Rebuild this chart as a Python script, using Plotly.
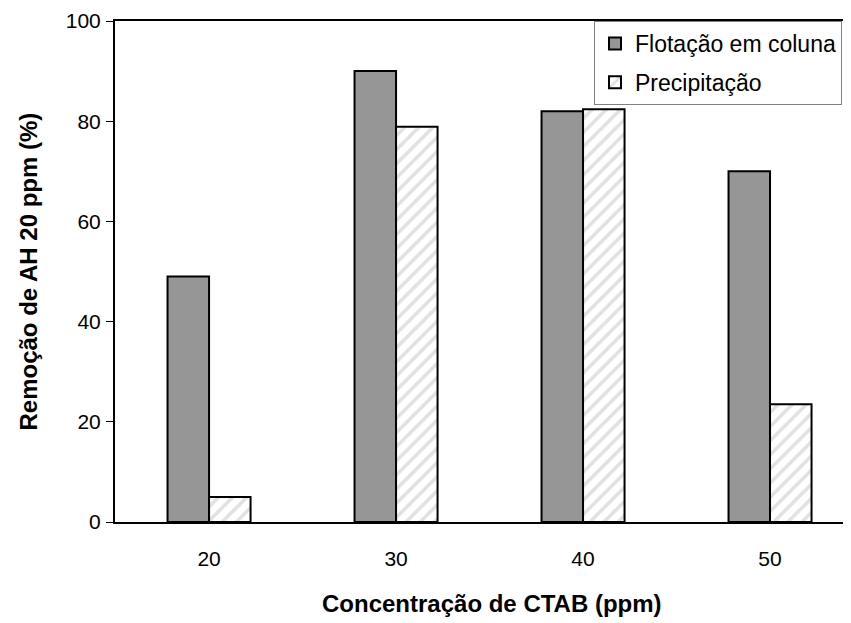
import plotly.graph_objects as go

categories = ["20", "30", "40", "50"]
flotacao = [49.0, 90.0, 82.0, 70.0]
precipitacao = [5.0, 78.9, 82.4, 23.5]
y_ticks = [0, 20, 40, 60, 80, 100]

# page body has an 8px default margin; margins below compensate for it
L, T, B, R = 107, 13, 109, 8
PLOT_W = 851 - L - R
PLOT_H = 623 - T - B

fig = go.Figure()
fig.add_trace(go.Bar(
    x=categories, y=flotacao, name="Flotação em coluna", legendgroup="a",
    marker=dict(color="#969696", line=dict(color="black", width=2)),
))
fig.add_trace(go.Bar(
    x=categories, y=precipitacao, name="Precipitação", legendgroup="b",
    marker=dict(color="white", line=dict(color="black", width=2),
                pattern=dict(shape="/", fgcolor="#c4c4c4", bgcolor="white",
                             size=10, solidity=0.35, fillmode="overlay")),
))

fig.update_layout(
    width=851, height=623,
    margin=dict(l=L, r=R, t=T, b=B, autoexpand=False),
    paper_bgcolor="white", plot_bgcolor="white",
    barmode="group", bargap=0.556, bargroupgap=0,
    font=dict(family="Liberation Sans, Arial, sans-serif", size=21, color="black"),
    showlegend=True,
    legend=dict(x=(586 - L) / PLOT_W, y=1, xanchor="left", yanchor="top",
                bordercolor="#808080", borderwidth=1, bgcolor="white",
                font=dict(size=23), itemwidth=30, tracegroupgap=6),
    xaxis=dict(range=[-0.503, 3.433], showline=True, linecolor="black", linewidth=2,
               mirror=True, ticks="", ticklabelstandoff=17, showgrid=False,
               automargin=False, tickfont=dict(size=21)),
    yaxis=dict(range=[0, 100], tickvals=y_ticks, showline=True, linecolor="black",
               linewidth=2, ticks="outside", ticklen=7, tickcolor="black",
               tickwidth=1, ticklabelstandoff=1, showgrid=False, zeroline=False,
               automargin=False, tickfont=dict(size=21)),
    annotations=[
        dict(text="<b>Concentração de CTAB (ppm)</b>", xref="paper", yref="paper",
             x=(484 - L) / PLOT_W, y=-81 / PLOT_H, xanchor="center", yanchor="middle",
             showarrow=False, font=dict(size=24)),
        dict(text="<b>Remoção de AH 20 ppm (%)</b>", xref="paper", yref="paper",
             x=(20 - L) / PLOT_W, y=0.5, xanchor="center", yanchor="middle",
             textangle=-90, showarrow=False, font=dict(size=24)),
    ],
)

fig.write_html("out.html")
